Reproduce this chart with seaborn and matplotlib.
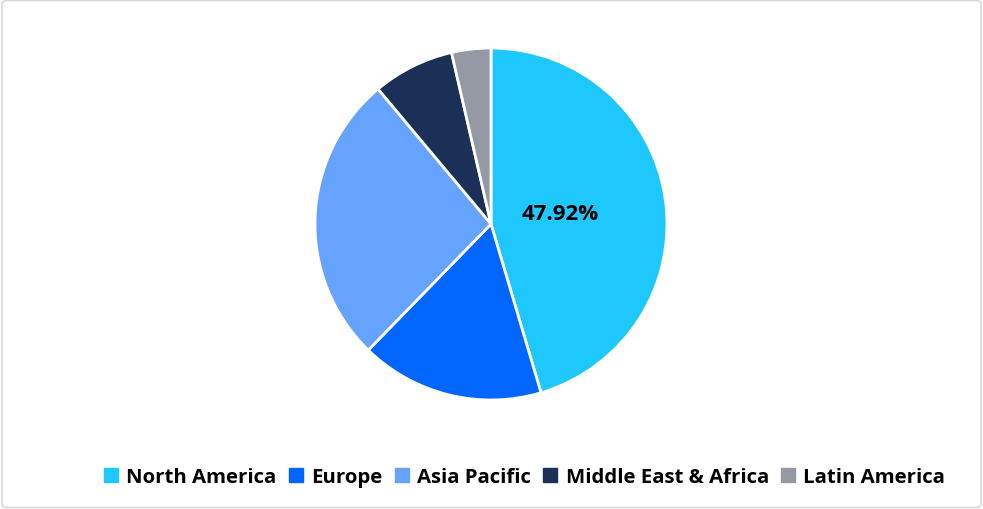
import matplotlib
matplotlib.use("Agg")
import matplotlib.pyplot as plt
from matplotlib.patches import FancyBboxPatch
import seaborn as sns

# Data
regions = ["North America", "Europe", "Asia Pacific", "Middle East & Africa", "Latin America"]
shares = [47.92, 17.8, 28.1, 7.9, 3.8]
colors = ["#1ec8fc", "#0066fe", "#65a3fe", "#1b3057", "#9499a4"]

sns.set_theme(style="white")
plt.rcParams["font.family"] = ["Open Sans", "DejaVu Sans"]

fig = plt.figure(figsize=(9.83, 5.10), dpi=100)
fig.patch.set_facecolor("white")

# outer border
border = FancyBboxPatch((0.002, 0.003), 0.996, 0.994,
                        boxstyle="round,pad=0,rounding_size=0.006",
                        transform=fig.transFigure, facecolor="none",
                        edgecolor="#d9d9d9", linewidth=1.2)
fig.patches.append(border)

ax = fig.add_axes([315 / 983, 109 / 510, 352 / 983, 352 / 510])
palette = sns.color_palette(colors)


def first_only(pct, _state={"i": 0}):
    i = _state["i"]
    _state["i"] += 1
    return f"{shares[0]:.2f}%" if i == 0 else ""


wedges, texts, autotexts = ax.pie(shares, colors=palette, startangle=90, counterclock=False,
                                  autopct=first_only, pctdistance=0.4,
                                  wedgeprops=dict(edgecolor="white", linewidth=2))
for t in autotexts:
    t.set_fontsize(16)
    t.set_fontweight("bold")
    t.set_color("black")
ax.set_xlim(-1, 1)
ax.set_ylim(-1, 1)
ax.set_aspect("equal")
ax.axis("off")

handles = [plt.Line2D([], [], marker="s", linestyle="", markersize=10,
                      markerfacecolor=c, markeredgecolor=c) for c in colors]
leg = fig.legend(handles, regions, loc="center", bbox_to_anchor=(0.533, 0.062), ncol=5,
                 frameon=False, handlelength=0.8, handletextpad=0.35, columnspacing=0.55,
                 prop={"size": 14.7, "weight": "bold"})
for t in leg.get_texts():
    t.set_color("black")

fig.savefig("out.png", dpi=100, facecolor="white")
